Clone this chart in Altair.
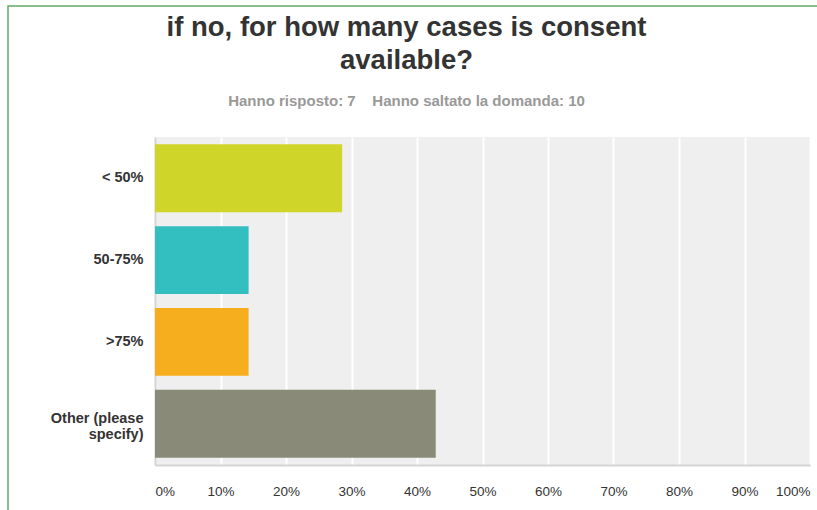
import altair as alt
import pandas as pd

categories = ["< 50%", "50-75%", ">75%", "Other (please specify)"]
values = [28.57, 14.29, 14.29, 42.86]
colors = ["#D0D52A", "#33BEC0", "#F7AE1E", "#898A78"]
x_ticks = [0, 10, 20, 30, 40, 50, 60, 70, 80, 90, 100]

df = pd.DataFrame({"cat": categories, "val": values, "color": colors})

bars = alt.Chart(df).mark_bar().encode(
    y=alt.Y("cat:N", sort=categories,
            scale=alt.Scale(paddingInner=0.17, paddingOuter=0.09),
            axis=alt.Axis(title=None, ticks=False, labelPadding=12,
                          labelFontWeight="bold", labelFontSize=14.5,
                          labelLineHeight=16,
                          labelOffset={"condition": {"test": "datum.label == 'Other (please specify)'", "value": -5}, "value": 0},
                          labelColor="#333333", labelFont="Liberation Sans",
                          domainColor="#d4d4d4", domainWidth=2, grid=False,
                          labelExpr="datum.label == 'Other (please specify)' ? ['Other (please', 'specify)'] : datum.label")),
    x=alt.X("val:Q", scale=alt.Scale(domain=[0, 100], nice=False),
            axis=alt.Axis(title=None, values=x_ticks, ticks=False,
                          labelExpr="datum.value + '%'", labelPadding=19,
                          labelFontSize=13.5, labelColor="#333333",
                          labelFont="Liberation Sans", labelFlush=True,
                          domainColor="#d4d4d4", domainWidth=2,
                          grid=True, gridColor="#ffffff", gridWidth=2)),
    color=alt.Color("color:N", scale=None),
)

border = alt.Chart(pd.DataFrame({"a": [0]})).mark_rect(
    filled=False, fillOpacity=0, stroke="#66a866", strokeWidth=1.5
).encode(
    x=alt.value(-147), x2=alt.value(670),
    y=alt.value(-131), y2=alt.value(420),
)

chart = alt.layer(border, bars).properties(
    width=655,
    height=328,
    title=alt.TitleParams(
        text=["if no, for how many cases is consent", "available?"],
        subtitle="Hanno risposto: 7\u00a0\u00a0\u00a0\u00a0Hanno saltato la domanda: 10",
        font="Liberation Sans", fontSize=27.5, fontWeight="bold",
        color="#333333", lineHeight=33,
        subtitleFont="Liberation Sans", subtitleFontSize=15,
        subtitleFontWeight="bold", subtitleColor="#999999",
        subtitlePadding=20, anchor="middle", dx=-76, offset=-104,
    ),
    autosize=alt.AutoSizeParams(type="none"),
    padding={"left": 155, "top": 137, "right": 7, "bottom": 45},
).configure(
    background="#ffffff",
    view=alt.ViewConfig(fill="#efefef", strokeWidth=0),
)

chart.save("out.html", embed_options={"renderer": "svg", "actions": False})
